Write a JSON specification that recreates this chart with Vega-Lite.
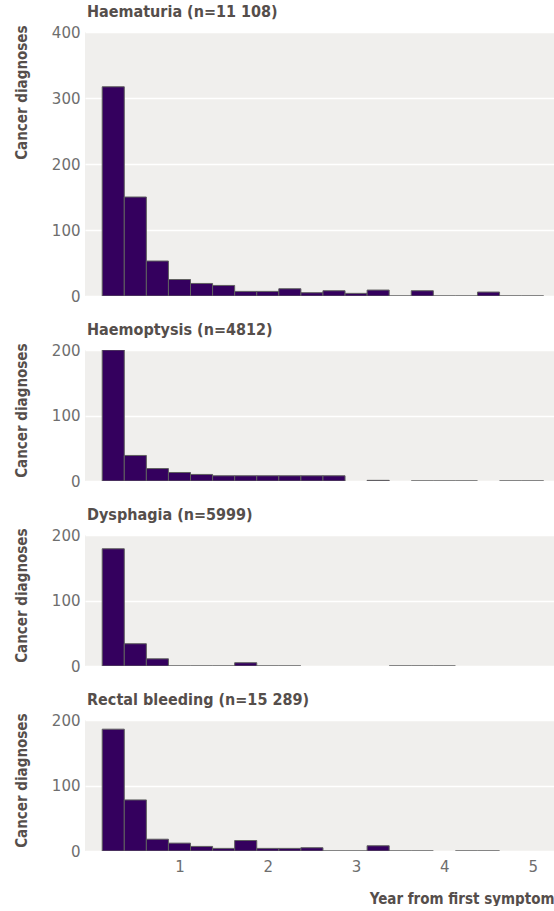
{
  "$schema": "https://vega.github.io/schema/vega-lite/v6.json",
  "background": "white",
  "padding": {"left": 13, "top": 4, "right": 0, "bottom": 0},
  "spacing": 18,
  "datasets": {
    "bins": [
      {"p": 1, "s": 0.125, "e": 0.375, "n": 317},
      {"p": 1, "s": 0.375, "e": 0.625, "n": 150},
      {"p": 1, "s": 0.625, "e": 0.875, "n": 53},
      {"p": 1, "s": 0.875, "e": 1.125, "n": 25},
      {"p": 1, "s": 1.125, "e": 1.375, "n": 19},
      {"p": 1, "s": 1.375, "e": 1.625, "n": 16},
      {"p": 1, "s": 1.625, "e": 1.875, "n": 7},
      {"p": 1, "s": 1.875, "e": 2.125, "n": 7},
      {"p": 1, "s": 2.125, "e": 2.375, "n": 11},
      {"p": 1, "s": 2.375, "e": 2.625, "n": 5},
      {"p": 1, "s": 2.625, "e": 2.875, "n": 8},
      {"p": 1, "s": 2.875, "e": 3.125, "n": 4},
      {"p": 1, "s": 3.125, "e": 3.375, "n": 9},
      {"p": 1, "s": 3.375, "e": 3.625, "n": 0},
      {"p": 1, "s": 3.625, "e": 3.875, "n": 8},
      {"p": 1, "s": 3.875, "e": 4.125, "n": 0},
      {"p": 1, "s": 4.125, "e": 4.375, "n": 0},
      {"p": 1, "s": 4.375, "e": 4.625, "n": 6},
      {"p": 1, "s": 4.625, "e": 4.875, "n": 0},
      {"p": 1, "s": 4.875, "e": 5.125, "n": 0},
      {"p": 2, "s": 0.125, "e": 0.375, "n": 200},
      {"p": 2, "s": 0.375, "e": 0.625, "n": 39},
      {"p": 2, "s": 0.625, "e": 0.875, "n": 19},
      {"p": 2, "s": 0.875, "e": 1.125, "n": 13},
      {"p": 2, "s": 1.125, "e": 1.375, "n": 10},
      {"p": 2, "s": 1.375, "e": 1.625, "n": 8},
      {"p": 2, "s": 1.625, "e": 1.875, "n": 8},
      {"p": 2, "s": 1.875, "e": 2.125, "n": 8},
      {"p": 2, "s": 2.125, "e": 2.375, "n": 8},
      {"p": 2, "s": 2.375, "e": 2.625, "n": 8},
      {"p": 2, "s": 2.625, "e": 2.875, "n": 8},
      {"p": 2, "s": 3.125, "e": 3.375, "n": 1},
      {"p": 2, "s": 3.625, "e": 3.875, "n": 0},
      {"p": 2, "s": 3.875, "e": 4.125, "n": 0},
      {"p": 2, "s": 4.125, "e": 4.375, "n": 0},
      {"p": 2, "s": 4.625, "e": 4.875, "n": 0},
      {"p": 2, "s": 4.875, "e": 5.125, "n": 0},
      {"p": 3, "s": 0.125, "e": 0.375, "n": 179},
      {"p": 3, "s": 0.375, "e": 0.625, "n": 34},
      {"p": 3, "s": 0.625, "e": 0.875, "n": 11},
      {"p": 3, "s": 0.875, "e": 1.125, "n": 0},
      {"p": 3, "s": 1.125, "e": 1.375, "n": 0},
      {"p": 3, "s": 1.375, "e": 1.625, "n": 0},
      {"p": 3, "s": 1.625, "e": 1.875, "n": 5},
      {"p": 3, "s": 1.875, "e": 2.125, "n": 0},
      {"p": 3, "s": 2.125, "e": 2.375, "n": 0},
      {"p": 3, "s": 3.375, "e": 3.625, "n": 0},
      {"p": 3, "s": 3.625, "e": 3.875, "n": 0},
      {"p": 3, "s": 3.875, "e": 4.125, "n": 0},
      {"p": 4, "s": 0.125, "e": 0.375, "n": 186},
      {"p": 4, "s": 0.375, "e": 0.625, "n": 78},
      {"p": 4, "s": 0.625, "e": 0.875, "n": 18},
      {"p": 4, "s": 0.875, "e": 1.125, "n": 12},
      {"p": 4, "s": 1.125, "e": 1.375, "n": 7},
      {"p": 4, "s": 1.375, "e": 1.625, "n": 4},
      {"p": 4, "s": 1.625, "e": 1.875, "n": 16},
      {"p": 4, "s": 1.875, "e": 2.125, "n": 4},
      {"p": 4, "s": 2.125, "e": 2.375, "n": 4},
      {"p": 4, "s": 2.375, "e": 2.625, "n": 5},
      {"p": 4, "s": 2.625, "e": 2.875, "n": 0},
      {"p": 4, "s": 2.875, "e": 3.125, "n": 0},
      {"p": 4, "s": 3.125, "e": 3.375, "n": 8},
      {"p": 4, "s": 3.375, "e": 3.625, "n": 0},
      {"p": 4, "s": 3.625, "e": 3.875, "n": 0},
      {"p": 4, "s": 4.125, "e": 4.375, "n": 0},
      {"p": 4, "s": 4.375, "e": 4.625, "n": 0}
    ]
  },
  "data": {"name": "bins"},
  "config": {
    "view": {"stroke": null, "fill": "#f0efed"},
    "axis": {
      "domain": false,
      "ticks": false,
      "gridColor": "#ffffff",
      "gridWidth": 1.5,
      "labelFont": "DejaVu Sans",
      "labelFontSize": 15,
      "labelColor": "#6e6e6e",
      "titleFont": "DejaVu Sans Condensed",
      "titleFontSize": 15,
      "titleFontWeight": "bold",
      "titleColor": "#554e4b"
    },
    "title": {
      "anchor": "start",
      "frame": "group",
      "font": "DejaVu Sans Condensed",
      "fontSize": 16,
      "fontWeight": "bold",
      "color": "#554e4b",
      "offset": 5
    },
    "bar": {"fill": "#34005e", "stroke": "#606060", "strokeWidth": 1}
  },
  "vconcat": [
    {
      "title": {"text": "Haematuria (n=11 108)", "dx": 2},
      "width": 470,
      "height": 264,
      "transform": [{"filter": "datum.p == 1"}],
      "mark": {"type": "bar", "clip": true},
      "encoding": {
        "x": {"field": "s", "type": "quantitative", "scale": {"domain": [-0.07, 5.253], "nice": false, "zero": false}, "axis": null},
        "x2": {"field": "e"},
        "y": {"field": "n", "type": "quantitative", "scale": {"domain": [0, 400], "nice": false}, "axis": {"values": [0, 100, 200, 300, 400], "title": "Cancer diagnoses", "titleAngle": -90, "titleX": -56, "titleY": -7, "titleAlign": "right", "titleBaseline": "bottom", "labelPadding": 5}},
        "y2": {"datum": 0}
      }
    },
    {
      "title": {"text": "Haemoptysis (n=4812)", "dx": 2},
      "width": 470,
      "height": 131,
      "transform": [{"filter": "datum.p == 2"}],
      "mark": {"type": "bar", "clip": true},
      "encoding": {
        "x": {"field": "s", "type": "quantitative", "scale": {"domain": [-0.07, 5.253], "nice": false, "zero": false}, "axis": null},
        "x2": {"field": "e"},
        "y": {"field": "n", "type": "quantitative", "scale": {"domain": [0, 200], "nice": false}, "axis": {"values": [0, 100, 200], "title": "Cancer diagnoses", "titleAngle": -90, "titleX": -56, "titleY": -7, "titleAlign": "right", "titleBaseline": "bottom", "labelPadding": 5}},
        "y2": {"datum": 0}
      }
    },
    {
      "title": {"text": "Dysphagia (n=5999)", "dx": 2},
      "width": 470,
      "height": 131,
      "transform": [{"filter": "datum.p == 3"}],
      "mark": {"type": "bar", "clip": true},
      "encoding": {
        "x": {"field": "s", "type": "quantitative", "scale": {"domain": [-0.07, 5.253], "nice": false, "zero": false}, "axis": null},
        "x2": {"field": "e"},
        "y": {"field": "n", "type": "quantitative", "scale": {"domain": [0, 200], "nice": false}, "axis": {"values": [0, 100, 200], "title": "Cancer diagnoses", "titleAngle": -90, "titleX": -56, "titleY": -7, "titleAlign": "right", "titleBaseline": "bottom", "labelPadding": 5}},
        "y2": {"datum": 0}
      }
    },
    {
      "title": {"text": "Rectal bleeding (n=15 289)", "dx": 2},
      "width": 470,
      "height": 131,
      "transform": [{"filter": "datum.p == 4"}],
      "mark": {"type": "bar", "clip": true},
      "encoding": {
        "x": {"field": "s", "type": "quantitative", "scale": {"domain": [-0.07, 5.253], "nice": false, "zero": false}, "axis": {"values": [1, 2, 3, 4, 5], "grid": false, "labelPadding": 8, "title": "Year from first symptom", "titleX": 469, "titleY": 47, "titleAlign": "right", "titleBaseline": "middle", "titleAnchor": null}},
        "x2": {"field": "e"},
        "y": {"field": "n", "type": "quantitative", "scale": {"domain": [0, 200], "nice": false}, "axis": {"values": [0, 100, 200], "title": "Cancer diagnoses", "titleAngle": -90, "titleX": -56, "titleY": -7, "titleAlign": "right", "titleBaseline": "bottom", "labelPadding": 5}},
        "y2": {"datum": 0}
      }
    }
  ]
}
